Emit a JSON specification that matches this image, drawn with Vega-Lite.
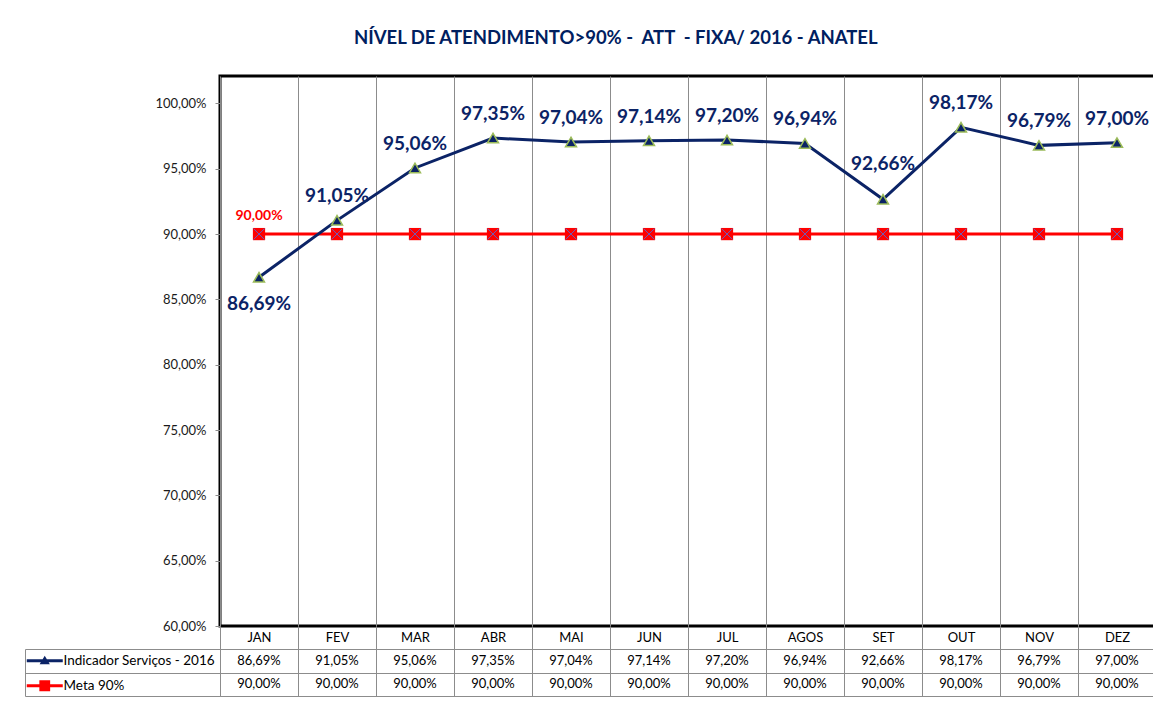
{
  "$schema": "https://vega.github.io/schema/vega-lite/v6.json",
  "background": "white",
  "padding": {"left": 24, "top": 29, "right": 0, "bottom": 0},
  "autosize": {"type": "pad"},
  "config": {
    "font": "Lato",
    "locale": {"number": {"decimal": ",", "thousands": ".", "grouping": [3], "currency": ["R$", ""]}},
    "axis": {"labelFont": "Lato"},
    "legend": {"labelFont": "Lato"}
  },
  "title": {
    "text": "NÍVEL DE ATENDIMENTO>90% -\u00a0\u00a0ATT\u00a0\u00a0- FIXA/ 2016 - ANATEL",
    "anchor": "start",
    "dx": 330,
    "offset": 27,
    "fontSize": 18.5,
    "font": "Lato",
    "fontWeight": "bold",
    "color": "#002060"
  },
  "datasets": {
    "long": [
      {"m": "JAN", "serie": "Indicador Serviços - 2016", "v": 0.8669},
      {"m": "FEV", "serie": "Indicador Serviços - 2016", "v": 0.9105},
      {"m": "MAR", "serie": "Indicador Serviços - 2016", "v": 0.9506},
      {"m": "ABR", "serie": "Indicador Serviços - 2016", "v": 0.9735},
      {"m": "MAI", "serie": "Indicador Serviços - 2016", "v": 0.9704},
      {"m": "JUN", "serie": "Indicador Serviços - 2016", "v": 0.9714},
      {"m": "JUL", "serie": "Indicador Serviços - 2016", "v": 0.972},
      {"m": "AGOS", "serie": "Indicador Serviços - 2016", "v": 0.9694},
      {"m": "SET", "serie": "Indicador Serviços - 2016", "v": 0.9266},
      {"m": "OUT", "serie": "Indicador Serviços - 2016", "v": 0.9817},
      {"m": "NOV", "serie": "Indicador Serviços - 2016", "v": 0.9679},
      {"m": "DEZ", "serie": "Indicador Serviços - 2016", "v": 0.97},
      {"m": "JAN", "serie": "Meta 90%", "v": 0.9},
      {"m": "FEV", "serie": "Meta 90%", "v": 0.9},
      {"m": "MAR", "serie": "Meta 90%", "v": 0.9},
      {"m": "ABR", "serie": "Meta 90%", "v": 0.9},
      {"m": "MAI", "serie": "Meta 90%", "v": 0.9},
      {"m": "JUN", "serie": "Meta 90%", "v": 0.9},
      {"m": "JUL", "serie": "Meta 90%", "v": 0.9},
      {"m": "AGOS", "serie": "Meta 90%", "v": 0.9},
      {"m": "SET", "serie": "Meta 90%", "v": 0.9},
      {"m": "OUT", "serie": "Meta 90%", "v": 0.9},
      {"m": "NOV", "serie": "Meta 90%", "v": 0.9},
      {"m": "DEZ", "serie": "Meta 90%", "v": 0.9}
    ]
  },
  "bounds": "flush",
  "spacing": 23,
  "vconcat": [
    {
      "width": 936,
      "height": 550,
      "view": {"stroke": "#000000", "strokeWidth": 3},
      "data": {"name": "long"},
      "encoding": {
        "x": {
          "field": "m", "type": "ordinal",
          "sort": ["JAN", "FEV", "MAR", "ABR", "MAI", "JUN", "JUL", "AGOS", "SET", "OUT", "NOV", "DEZ"],
          "scale": {"paddingInner": 0, "paddingOuter": 0},
          "axis": {
            "title": null, "labelAngle": 0, "tickBand": "extent", "grid": true,
            "gridColor": "#8c8c8c", "gridWidth": 1, "tickSize": 23, "tickColor": "#8c8c8c",
            "domain": false, "labelFontSize": 13, "labelColor": "#000000", "labelPadding": -18
          }
        },
        "y": {
          "field": "v", "type": "quantitative",
          "scale": {"domain": [0.6, 1.021], "nice": false, "zero": false},
          "axis": {
            "title": null, "values": [0.6, 0.65, 0.7, 0.75, 0.8, 0.85, 0.9, 0.95, 1.0],
            "format": ".2%", "tickSize": 5, "tickColor": "#8c8c8c", "domain": false,
            "grid": false, "labelFontSize": 13, "labelColor": "#1a1a1a", "labelPadding": 9
          }
        }
      },
      "layer": [
        {
          "transform": [{"filter": "datum.serie === 'Meta 90%'"}],
          "mark": {"type": "line", "color": "#FF0000", "strokeWidth": 3}
        },
        {
          "transform": [{"filter": "datum.serie === 'Meta 90%'"}],
          "mark": {"type": "point", "shape": "square", "filled": true, "color": "#FF0000", "size": 150, "opacity": 1}
        },
        {
          "transform": [{"filter": "datum.serie === 'Meta 90%'"}],
          "mark": {"type": "point", "shape": "M-1,-1L1,1M-1,1L1,-1", "filled": false, "stroke": "#6a5fc0", "strokeWidth": 1, "size": 120, "opacity": 1}
        },
        {
          "transform": [{"filter": "datum.serie === 'Meta 90%' && datum.m === 'JAN'"}],
          "mark": {"type": "text", "color": "#FF0000", "fontWeight": "bold", "fontSize": 14, "dy": -18},
          "encoding": {"text": {"field": "v", "type": "quantitative", "format": ".2%"}}
        },
        {
          "transform": [{"filter": "datum.serie !== 'Meta 90%'"}],
          "mark": {"type": "line", "color": "#0b2366", "strokeWidth": 3}
        },
        {
          "transform": [{"filter": "datum.serie !== 'Meta 90%'"}],
          "mark": {"type": "point", "shape": "triangle-up", "filled": true, "fill": "#0b2366", "stroke": "#9BBB59", "strokeWidth": 1.5, "size": 120, "opacity": 1}
        },
        {
          "transform": [{"filter": "datum.serie !== 'Meta 90%' && datum.m !== 'JAN' && datum.m !== 'SET'"}],
          "mark": {"type": "text", "color": "#0b2366", "fontWeight": "bold", "fontSize": 19, "dy": -24},
          "encoding": {"text": {"field": "v", "type": "quantitative", "format": ".2%"}}
        },
        {
          "transform": [{"filter": "datum.serie !== 'Meta 90%' && datum.m === 'JAN'"}],
          "mark": {"type": "text", "color": "#0b2366", "fontWeight": "bold", "fontSize": 19, "dy": 27},
          "encoding": {"text": {"field": "v", "type": "quantitative", "format": ".2%"}}
        },
        {
          "transform": [{"filter": "datum.serie !== 'Meta 90%' && datum.m === 'SET'"}],
          "mark": {"type": "text", "color": "#0b2366", "fontWeight": "bold", "fontSize": 19, "dy": -35},
          "encoding": {"text": {"field": "v", "type": "quantitative", "format": ".2%"}}
        }
      ]
    },
    {
      "width": 936,
      "height": 47,
      "view": {"stroke": "#8c8c8c", "strokeWidth": 1},
      "data": {"name": "long"},
      "encoding": {
        "x": {
          "field": "m", "type": "ordinal",
          "sort": ["JAN", "FEV", "MAR", "ABR", "MAI", "JUN", "JUL", "AGOS", "SET", "OUT", "NOV", "DEZ"],
          "scale": {"paddingInner": 0, "paddingOuter": 0},
          "axis": {"title": null, "labels": false, "ticks": false, "domain": false, "grid": true, "tickBand": "extent", "gridColor": "#8c8c8c", "gridWidth": 1}
        },
        "y": {
          "field": "serie", "type": "nominal",
          "sort": ["Indicador Serviços - 2016", "Meta 90%"],
          "scale": {"paddingInner": 0, "paddingOuter": 0},
          "axis": {"title": null, "labels": false, "offset": 195, "tickSize": -195, "tickBand": "extent", "tickColor": "#8c8c8c", "domainColor": "#8c8c8c", "grid": true, "gridColor": "#8c8c8c"}
        }
      },
      "layer": [
        {
          "mark": {"type": "text", "fontSize": 13, "color": "#000000"},
          "encoding": {"text": {"field": "v", "type": "quantitative", "format": ".2%"}}
        },
        {
          "mark": {"type": "point", "filled": true, "opacity": 0},
          "encoding": {
            "color": {
              "field": "serie", "type": "nominal",
              "scale": {"domain": ["Indicador Serviços - 2016", "Meta 90%"], "range": ["#0b2366", "#FF0000"]},
              "legend": {"title": null, "orient": "none", "legendX": -182, "legendY": 578, "labelFontSize": 13.5, "labelColor": "#000000", "symbolSize": 144, "symbolStrokeWidth": 1, "labelOffset": 12, "rowPadding": 10, "padding": 0, "symbolOpacity": 1}
            },
            "shape": {
              "field": "serie", "type": "nominal",
              "scale": {"domain": ["Indicador Serviços - 2016", "Meta 90%"], "range": ["M-3,-0.25L3,-0.25L3,0.25L-3,0.25ZM0,-0.85L0.85,0.6L-0.85,0.6Z", "M-3,-0.25L3,-0.25L3,0.25L-3,0.25ZM-0.9,-0.9L0.9,-0.9L0.9,0.9L-0.9,0.9Z"]},
              "legend": {"title": null, "orient": "none", "legendX": -182, "legendY": 578, "labelFontSize": 13.5, "labelColor": "#000000", "symbolSize": 144, "symbolStrokeWidth": 1, "labelOffset": 12, "rowPadding": 10, "padding": 0, "symbolOpacity": 1}
            }
          }
        }
      ]
    }
  ]
}
